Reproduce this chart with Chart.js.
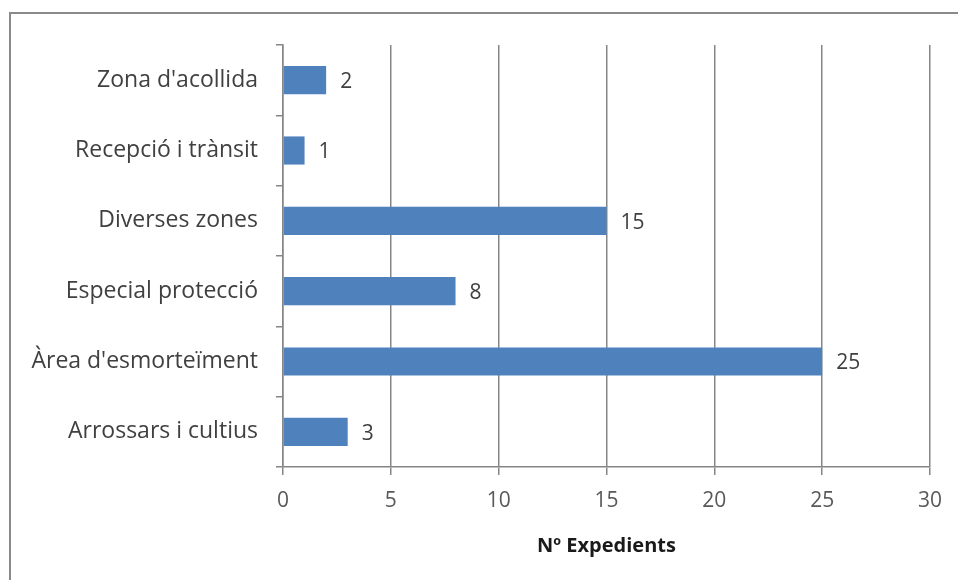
<!DOCTYPE html>
<html>
<head>
<meta charset="utf-8">
<script src="https://cdn.jsdelivr.net/npm/chart.js@4"></script>
<style>
  html, body { margin: 0; padding: 0; background: #fff; }
  #wrap { position: relative; width: 958px; height: 580px; }
  #frame { position: absolute; left: 9px; top: 12px; right: 0; bottom: 0;
           border-top: 2px solid #8a8a8a; border-left: 2px solid #8a8a8a; }
  canvas { position: absolute; left: 0; top: 0; }
</style>
</head>
<body>
<div id="wrap">
  <div id="frame"></div>
  <canvas id="chart" width="958" height="580"></canvas>
</div>
<script>
// Categories (top to bottom) and number of files
const categories = ["Zona d'acollida", "Recepció i trànsit", "Diverses zones",
                    "Especial protecció", "Àrea d'esmorteïment", "Arrossars i cultius"];
const expedients = [2, 1, 15, 8, 25, 3];
const xTicks = [0, 5, 10, 15, 20, 25, 30];
const xTitle = "Nº Expedients";

const fontFamily = '"Open Sans", Lato, sans-serif';

// Draw value labels just after each bar
const valueLabels = {
    id: 'valueLabels',
    afterDatasetsDraw(chart) {
        const ctx = chart.ctx;
        const meta = chart.getDatasetMeta(0);
        ctx.save();
        ctx.font = '21px ' + fontFamily;
        ctx.fillStyle = '#404040';
        ctx.textBaseline = 'middle';
        meta.data.forEach(function (bar, i) {
            ctx.fillText(String(expedients[i]), bar.x + 14, bar.y + 2);
        });
        ctx.restore();
    }
};

new Chart(document.getElementById('chart'), {
    type: 'bar',
    data: {
        labels: categories,
        datasets: [{
            data: expedients,
            backgroundColor: '#4f81bd',
            borderWidth: 0,
            categoryPercentage: 1,
            barPercentage: 0.4
        }]
    },
    plugins: [valueLabels],
    options: {
        indexAxis: 'y',
        responsive: false,
        animation: false,
        devicePixelRatio: 1,
        layout: { padding: { top: 45, right: 28, left: 0, bottom: 22 } },
        plugins: { legend: { display: false }, tooltip: { enabled: false } },
        scales: {
            x: {
                min: 0,
                max: 30,
                afterBuildTicks(scale) {
                    scale.ticks = xTicks.map(v => ({ value: v }));
                },
                afterFit(scale) { scale.height = 91; },
                grid: {
                    color: '#868686',
                    lineWidth: 1.5,
                    tickLength: 8,
                    drawTicks: true
                },
                border: { color: '#868686', width: 1.5 },
                ticks: {
                    color: '#595959',
                    font: { family: fontFamily, size: 21 },
                    padding: 13
                },
                title: {
                    display: true,
                    text: xTitle,
                    color: '#1a1a1a',
                    font: { family: fontFamily, size: 20, weight: 'bold' },
                    padding: { top: 6, bottom: 0 }
                }
            },
            y: {
                afterFit(scale) { scale.width = 283; },
                grid: {
                    drawOnChartArea: false,
                    drawTicks: true,
                    tickLength: 7,
                    offset: true,
                    color: '#868686',
                    lineWidth: 1.5
                },
                border: { color: '#868686', width: 1.5 },
                ticks: {
                    color: '#404040',
                    font: { family: fontFamily, size: 23 },
                    padding: 18
                }
            }
        }
    }
});
</script>
</body>
</html>
